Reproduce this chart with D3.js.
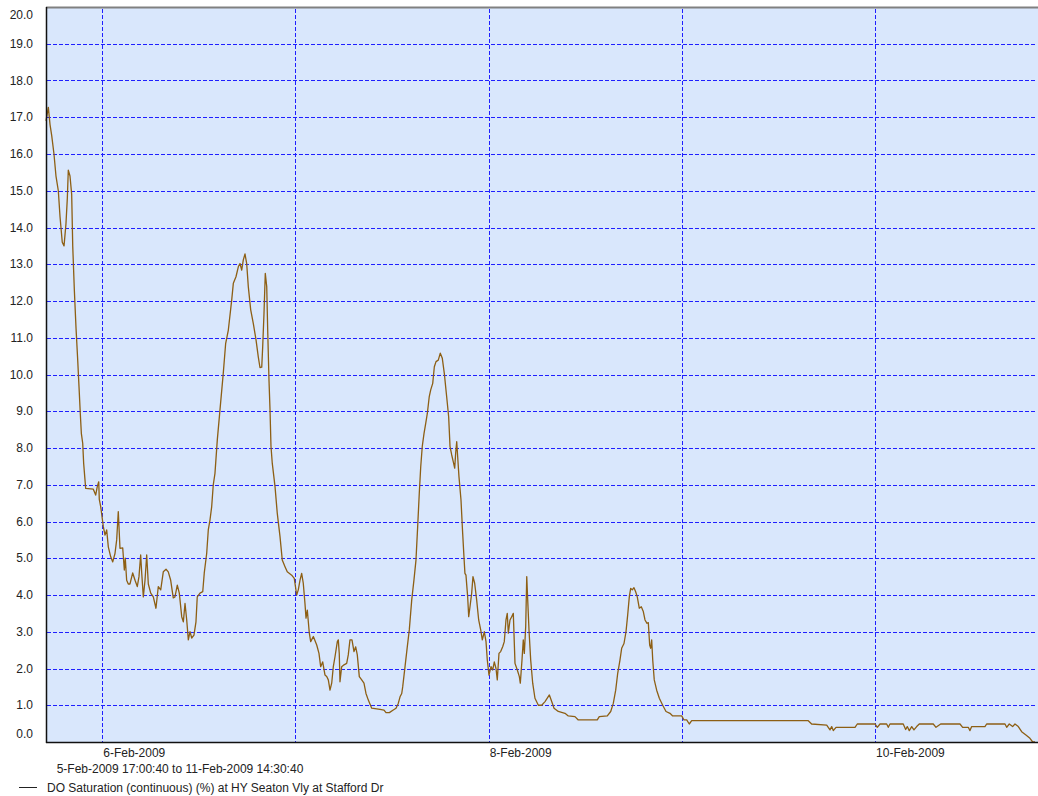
<!DOCTYPE html>
<html>
<head>
<meta charset="utf-8">
<script src="https://cdn.jsdelivr.net/npm/d3@7/dist/d3.min.js"></script>
<style>
  html, body { margin: 0; padding: 0; background: #ffffff; }
  svg { display: block; font-family: "Liberation Sans", Arial, sans-serif; }
</style>
</head>
<body>
<svg id="chart" width="1038" height="796"></svg>
<script>
// Recording period
const periodStart = Date.UTC(2009, 1, 5, 17, 0, 40);
const periodLabel = "5-Feb-2009 17:00:40 to 11-Feb-2009 14:30:40";
const seriesName = "DO Saturation (continuous) (%) at HY Seaton Vly at Stafford Dr";

// Y axis tick labels
const yTickValues = [0, 1, 2, 3, 4, 5, 6, 7, 8, 9, 10, 11, 12, 13, 14, 15, 16, 17, 18, 19, 20];

// Sample times (hours after period start) and DO saturation readings (%)
const hoursFromStart = [
  0.0, 0.29, 0.50, 0.71, 0.99, 1.24, 1.53, 1.74, 2.02, 2.24, 2.48, 2.65, 2.77, 2.98, 3.19, 3.32,
  3.52, 3.73, 3.94, 4.10, 4.26, 4.39, 4.56, 4.68, 4.81, 4.93, 5.88, 6.17, 6.37, 6.55, 6.62, 6.80,
  6.96, 7.12, 7.33, 7.54, 7.74, 8.04, 8.29, 8.57, 8.78, 8.98, 9.19, 9.53, 9.73, 9.85, 10.02, 10.22,
  10.43, 10.77, 11.06, 11.34, 11.55, 11.76, 11.89, 12.09, 12.30, 12.51, 12.71, 13.01, 13.33, 13.66,
  13.95, 14.25, 14.57, 14.91, 15.19, 15.49, 15.81, 16.02, 16.31, 16.56, 16.86, 17.06, 17.27, 17.48,
  17.68, 17.89, 18.10, 18.38, 18.63, 18.79, 19.13, 19.47, 19.66, 19.96, 20.16, 20.37, 20.58, 20.78,
  20.99, 21.28, 21.61, 22.02, 22.32, 22.65, 23.07, 23.27, 23.60, 23.89, 24.10, 24.31, 24.51, 24.72,
  24.93, 25.13, 25.43, 25.75, 26.09, 26.37, 26.58, 26.80, 26.92, 27.08, 27.24, 27.42, 27.54, 27.70,
  27.83, 27.95, 28.11, 28.45, 28.73, 29.07, 29.35, 29.69, 29.97, 30.52, 30.84, 31.14, 31.34, 31.55,
  31.76, 31.96, 32.17, 32.30, 32.46, 32.71, 32.88, 33.21, 33.63, 33.91, 34.12, 34.37, 34.66, 34.87,
  35.07, 35.28, 35.49, 35.69, 35.90, 36.19, 36.31, 36.43, 36.52, 36.73, 37.02, 37.35, 37.55, 37.76,
  38.01, 38.26, 38.47, 38.67, 38.92, 39.22, 39.50, 39.75, 40.04, 40.46, 41.49, 41.99, 42.24, 42.65,
  43.14, 43.48, 43.76, 43.98, 44.19, 44.31, 44.60, 44.88, 45.13, 45.43, 45.71, 45.96, 46.17, 46.37,
  46.55, 46.74, 46.96, 47.17, 47.37, 47.61, 47.79, 48.04, 48.24, 48.45, 48.73, 48.98, 49.23, 49.48,
  49.77, 50.02, 50.19, 50.40, 50.59, 50.77, 50.89, 51.02, 51.14, 51.30, 51.55, 51.76, 51.92, 52.04,
  52.17, 52.38, 52.51, 52.67, 52.88, 53.04, 53.25, 53.50, 53.75, 54.00, 54.20, 54.45, 54.66, 54.82,
  55.03, 55.28, 55.49, 55.69, 55.90, 56.06, 56.27, 56.48, 56.73, 56.93, 57.14, 57.30, 57.43, 57.64,
  57.85, 58.05, 58.26, 58.55, 58.80, 58.92, 59.13, 59.29, 59.42, 59.59, 59.72, 59.84, 60.00, 60.21,
  60.46, 60.74, 61.16, 61.58, 61.99, 62.53, 62.82, 63.11, 63.64, 64.47, 64.88, 65.71, 66.12, 68.48,
  68.73, 69.73, 70.15, 70.47, 70.77, 71.02, 71.30, 71.51, 71.80, 72.05, 72.26, 72.46, 72.63, 72.83,
  73.04, 73.25, 73.45, 73.70, 73.95, 74.20, 74.41, 74.66, 74.82, 74.99, 75.12, 75.24, 75.37, 75.56,
  75.86, 76.19, 76.61, 77.02, 77.51, 77.85, 78.97, 79.25, 79.59, 79.91, 80.21, 94.69, 95.11, 96.98,
  97.39, 97.60, 97.80, 98.14, 100.50, 100.78, 102.98, 103.27, 103.60, 104.43, 104.63, 104.84, 106.49,
  106.79, 106.99, 107.24, 107.54, 107.82, 108.16, 108.48, 110.22, 110.56, 111.14, 113.54, 113.87,
  114.57, 114.78, 114.99, 116.64, 116.85, 119.13, 119.34, 119.66, 120.08, 120.37, 120.78, 121.20,
  121.73, 122.23, 122.57, 122.86
];

const saturation = [
  16.9, 17.27, 16.8, 16.5, 16.0, 15.4, 15.0, 14.3, 13.6, 13.5, 14.1, 14.8, 15.56, 15.4, 14.9, 13.5,
  12.3, 11.26, 10.39, 9.67, 8.94, 8.4, 8.13, 7.58, 7.22, 6.9, 6.88, 6.72, 6.95, 7.08, 6.6, 6.4,
  6.13, 5.86, 5.63, 5.77, 5.31, 5.04, 4.9, 5.13, 5.5, 6.27, 5.27, 5.28, 4.68, 5.0, 4.4, 4.3,
  4.3, 4.6, 4.4, 4.23, 4.5, 5.09, 4.6, 3.95, 4.4, 5.09, 4.3, 4.05, 3.95, 3.64,
  4.23, 4.14, 4.63, 4.7, 4.63, 4.4, 3.92, 3.95, 4.27, 4.05, 3.41, 3.27, 3.77, 3.32,
  2.78, 3.0, 2.83, 2.91, 3.27, 3.95, 4.05, 4.09, 4.6, 5.13, 5.77, 6.04, 6.4, 7.0,
  7.31, 8.22, 9.03, 10.03, 10.85, 11.21, 12.03, 12.48, 12.66, 12.93, 13.02, 12.84, 13.12, 13.28,
  13.02, 12.39, 11.76, 11.39, 10.94, 10.48, 10.19, 10.2, 10.76, 11.66, 12.75, 12.39, 11.21, 9.85,
  9.03, 8.04, 7.58, 6.95, 6.22, 5.59, 4.95, 4.77, 4.63, 4.54, 4.45, 4.0, 4.14, 4.4,
  4.59, 4.32, 3.77, 3.37, 3.59, 2.96, 2.73, 2.87, 2.64, 2.41, 2.05, 2.18, 1.82, 1.78,
  1.69, 1.41, 1.6, 2.05, 2.32, 2.73, 2.78, 2.41, 1.64, 2.05, 2.1, 2.14, 2.37, 2.78,
  2.78, 2.46, 2.59, 2.37, 1.78, 1.69, 1.6, 1.32, 1.14, 0.92, 0.89, 0.87, 0.80, 0.80,
  0.87, 0.92, 1.05, 1.23, 1.32, 1.5, 2.05, 2.59, 3.05, 3.86, 4.41, 4.95, 5.86, 6.77,
  7.49, 8.04, 8.4, 8.67, 8.94, 9.4, 9.58, 9.76, 10.21, 10.35, 10.39, 10.58, 10.44, 10.03,
  9.4, 8.85, 8.04, 7.81, 7.63, 7.45, 7.86, 8.17, 7.76, 7.22, 6.59, 5.68, 5.04, 4.59,
  4.54, 3.95, 3.41, 3.68, 4.05, 4.5, 4.32, 3.86, 3.32, 3.05, 2.78, 3.0, 2.73, 2.23,
  1.82, 2.05, 1.96, 2.18, 2.0, 1.69, 2.41, 2.46, 2.59, 2.73, 3.32, 3.5, 2.96, 3.32,
  3.41, 3.5, 2.14, 1.96, 1.78, 1.6, 2.23, 2.78, 2.41, 3.14, 4.5, 3.86, 3.05, 2.23,
  1.6, 1.19, 1.0, 1.0, 1.1, 1.28, 1.1, 0.92, 0.83, 0.78, 0.71, 0.69, 0.6, 0.6,
  0.69, 0.71, 0.83, 1.05, 1.41, 1.87, 2.23, 2.55, 2.68, 3.0, 3.46, 3.95, 4.18, 4.14,
  4.2, 4.09, 3.95, 3.64, 3.68, 3.55, 3.32, 3.23, 3.25, 2.64, 2.55, 2.78, 2.23, 1.69,
  1.41, 1.19, 1.0, 0.83, 0.78, 0.71, 0.71, 0.6, 0.6, 0.49, 0.58, 0.58, 0.49, 0.46,
  0.33, 0.42, 0.31, 0.40, 0.40, 0.49, 0.49, 0.40, 0.49, 0.49, 0.40, 0.49, 0.49,
  0.34, 0.42, 0.31, 0.42, 0.33, 0.42, 0.49, 0.49, 0.40, 0.49, 0.49, 0.40,
  0.40, 0.31, 0.42, 0.42, 0.49, 0.49, 0.40, 0.49, 0.42, 0.49, 0.42, 0.28,
  0.19, 0.1, 0.0, 0.0
];

const HOUR = 3600 * 1000;
const readings = hoursFromStart.map((h, i) => ({ t: new Date(periodStart + h * HOUR), v: saturation[i] }));

// Plot frame
const plot = { left: 46, right: 1038, top: 7, bottom: 742 };
const visibleHours = 123.1;

const svg = d3.select("#chart");

const x = d3.scaleUtc()
  .domain([new Date(periodStart), new Date(periodStart + visibleHours * HOUR)])
  .range([plot.left, plot.left + visibleHours * (193.2 / 24)]);

const y = d3.scaleLinear()
  .domain([0, 20])
  .range([plot.bottom, plot.top]);

// Plot background
svg.append("rect")
  .attr("x", plot.left)
  .attr("y", plot.top)
  .attr("width", plot.right - plot.left)
  .attr("height", plot.bottom - plot.top)
  .attr("fill", "#d9e7fc");

// Horizontal grid
const gridColor = "#1f1fff";
svg.append("g")
  .selectAll("line")
  .data(yTickValues.filter(v => v > 0 && v < 20))
  .join("line")
  .attr("x1", plot.left + 1)
  .attr("x2", plot.right - 2)
  .attr("y1", d => Math.round(y(d)) + 0.5)
  .attr("y2", d => Math.round(y(d)) + 0.5)
  .attr("stroke", gridColor)
  .attr("stroke-width", 1)
  .attr("stroke-dasharray", "4,2");

// Vertical grid at each midnight
const days = x.ticks(d3.utcDay.every(1));
svg.append("g")
  .selectAll("line")
  .data(days)
  .join("line")
  .attr("x1", d => Math.round(x(d)) + 0.5)
  .attr("x2", d => Math.round(x(d)) + 0.5)
  .attr("y1", plot.top + 2)
  .attr("y2", plot.bottom)
  .attr("stroke", gridColor)
  .attr("stroke-width", 1)
  .attr("stroke-dasharray", "4,2");

// Series line
const line = d3.line()
  .x(d => x(d.t))
  .y(d => y(d.v));

svg.append("path")
  .datum(readings)
  .attr("d", line)
  .attr("fill", "none")
  .attr("stroke", "#8d5f14")
  .attr("stroke-width", 1.3)
  .attr("stroke-linejoin", "round");

// Frame: top border and axis lines
svg.append("line")
  .attr("x1", plot.left).attr("x2", plot.right)
  .attr("y1", plot.top + 0.5).attr("y2", plot.top + 0.5)
  .attr("stroke", "#808080").attr("stroke-width", 2);

svg.append("line")
  .attr("x1", plot.left + 0.5).attr("x2", plot.left + 0.5)
  .attr("y1", plot.top).attr("y2", plot.bottom + 1)
  .attr("stroke", "#111").attr("stroke-width", 1.5);

svg.append("line")
  .attr("x1", plot.left).attr("x2", plot.right)
  .attr("y1", plot.bottom + 0.5).attr("y2", plot.bottom + 0.5)
  .attr("stroke", "#111").attr("stroke-width", 1.5);

// Y tick labels (end labels nudged inside the frame)
const yFmt = d3.format(".1f");
svg.append("g")
  .selectAll("text")
  .data(yTickValues)
  .join("text")
  .attr("x", 33)
  .attr("y", d => d === 0 ? y(d) - 8 : d === 20 ? y(d) + 8 : y(d))
  .attr("dy", "0.35em")
  .attr("text-anchor", "end")
  .attr("font-size", 12)
  .attr("fill", "#222")
  .text(yFmt);

// X tick labels on even-numbered days, starting at the gridline
const dateFmt = d3.utcFormat("%-d-%b-%Y");
svg.append("g")
  .selectAll("text")
  .data(days.filter(d => d.getUTCDate() % 2 === 0))
  .join("text")
  .attr("x", d => x(d) + 1)
  .attr("y", 757)
  .attr("text-anchor", "start")
  .attr("font-size", 12)
  .attr("fill", "#222")
  .text(dateFmt);

// Period caption
svg.append("text")
  .attr("x", 180)
  .attr("y", 773)
  .attr("text-anchor", "middle")
  .attr("font-size", 12)
  .attr("fill", "#222")
  .text(periodLabel);

// Legend
svg.append("line")
  .attr("x1", 19).attr("x2", 37)
  .attr("y1", 787.5).attr("y2", 787.5)
  .attr("stroke", "#222").attr("stroke-width", 1);

svg.append("text")
  .attr("x", 47)
  .attr("y", 792)
  .attr("font-size", 12)
  .attr("fill", "#222")
  .text(seriesName);
</script>
</body>
</html>
